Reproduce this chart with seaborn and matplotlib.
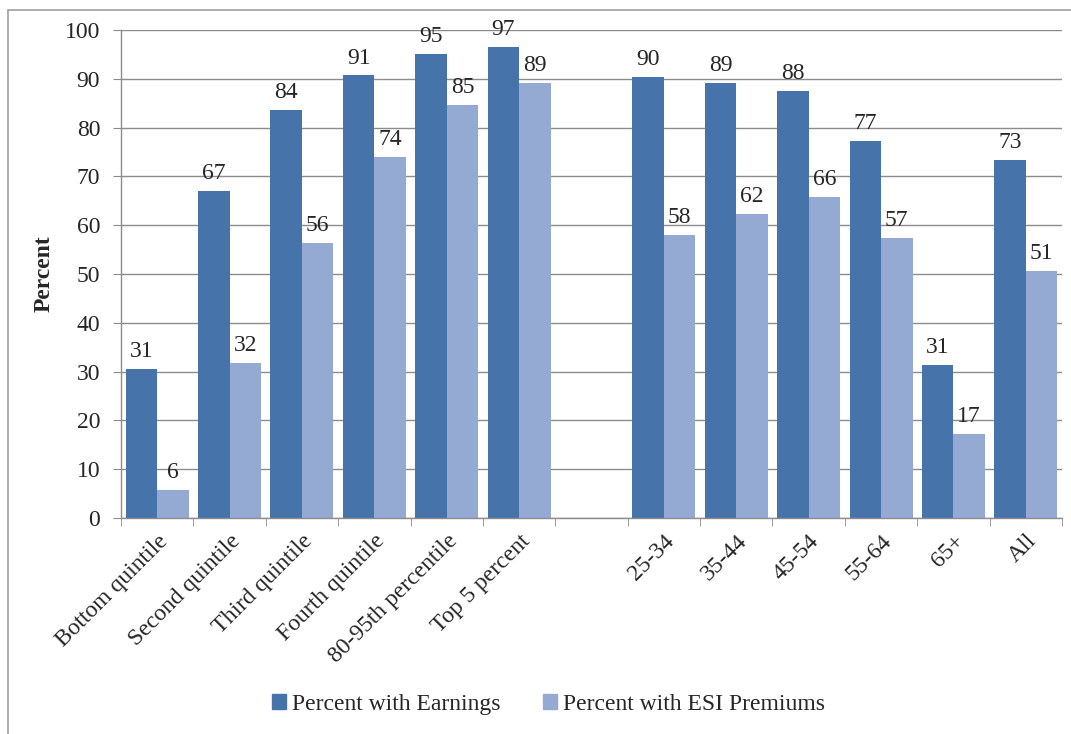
"""Percent with earnings and with ESI premiums, by income group and age."""

import matplotlib.pyplot as plt
import numpy as np
import pandas as pd
import seaborn as sns
from matplotlib.lines import Line2D
from matplotlib.ticker import FixedLocator, MultipleLocator

categories = [
    "Bottom quintile", "Second quintile", "Third quintile", "Fourth quintile",
    "80-95th percentile", "Top 5 percent",
    "25-34", "35-44", "45-54", "55-64", "65+", "All",
]
earnings = [30.6, 67.0, 83.6, 90.7, 95.1, 96.6, 90.4, 89.1, 87.6, 77.3, 31.4, 73.4]
esi = [5.7, 31.8, 56.4, 74.0, 84.6, 89.2, 58.0, 62.4, 65.7, 57.4, 17.2, 50.6]
series = ["Percent with Earnings", "Percent with ESI Premiums"]
colors = ["#4674aa", "#94aad3"]

# empty slot between the income groups and the age groups
gap = " "
order = categories[:6] + [gap] + categories[6:]

df = pd.DataFrame({
    "group": categories * 2,
    "series": [series[0]] * len(categories) + [series[1]] * len(categories),
    "value": earnings + esi,
})

sns.set_style("white")
plt.rcParams["font.family"] = ["Liberation Serif", "DejaVu Serif"]
fs = 17

fig = plt.figure(figsize=(10.71, 7.34), dpi=100)
ax = fig.add_axes([0.113, 0.2943, 0.8786, 0.6647])

sns.barplot(data=df, x="group", y="value", hue="series", order=order,
            hue_order=series, palette=colors, width=0.87, gap=0,
            saturation=1, linewidth=0, ax=ax, legend=False)

for container in ax.containers:
    ax.bar_label(container, labels=[f"{b.get_height():.0f}" for b in container],
                 padding=5, fontsize=fs)

ax.set_ylim(0, 100)
ax.set_xlim(-0.5, len(order) - 0.5)
ax.yaxis.set_major_locator(MultipleLocator(10))
ax.grid(axis="y", color="#8c8c8c", linewidth=1)
ax.set_axisbelow(True)
for side in ["top", "right"]:
    ax.spines[side].set_visible(False)
for side in ["left", "bottom"]:
    ax.spines[side].set_color("#8c8c8c")
    ax.spines[side].set_linewidth(1)

ax.tick_params(axis="y", labelsize=fs, length=6, color="#8c8c8c", left=True, pad=9)
ax.tick_params(axis="x", which="major", length=0, labelsize=fs, pad=9)
ax.xaxis.set_minor_locator(FixedLocator(np.arange(-0.5, len(order), 1)))
ax.tick_params(axis="x", which="minor", length=6, color="#8c8c8c", bottom=True)
ax.set_xticks(range(len(order)))
ax.set_xticklabels(order, rotation=45, ha="right", rotation_mode="anchor")
ax.set_xlabel("")
ax.set_ylabel("Percent", fontsize=fs, fontweight="bold", labelpad=7)

handles = [plt.Rectangle((0, 0), 1, 1, color=c) for c in colors]
fig.legend(handles, series, loc="center", bbox_to_anchor=(0.512, 0.04), ncol=2,
           frameon=False, fontsize=fs, handlelength=0.6, handleheight=0.6,
           handletextpad=0.25, columnspacing=1.8)

# chart-area border, cut off on the right and bottom
fig.add_artist(Line2D([8 / 1071, 8 / 1071], [0, 1 - 10 / 734], color="#a0a0a0", lw=1.2))
fig.add_artist(Line2D([8 / 1071, 1], [1 - 10 / 734, 1 - 10 / 734], color="#a0a0a0", lw=1.2))

fig.savefig("out.png", dpi=100)
